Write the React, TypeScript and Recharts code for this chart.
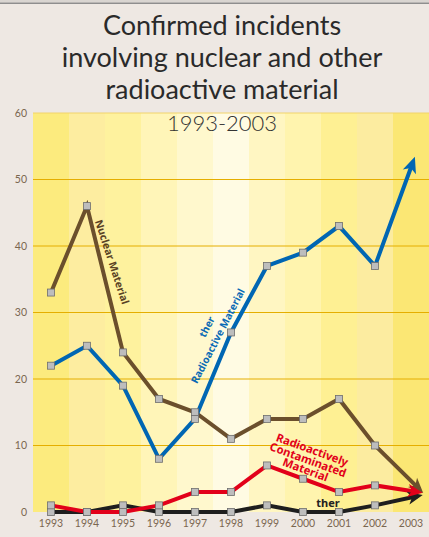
import React from 'react';
import { LineChart, Line, XAxis, YAxis, ReferenceArea, ReferenceLine } from 'recharts';

const years = [1993, 1994, 1995, 1996, 1997, 1998, 1999, 2000, 2001, 2002];
const tickYears = [1993, 1994, 1995, 1996, 1997, 1998, 1999, 2000, 2001, 2002, 2003];
const yTicks = [0, 10, 20, 30, 40, 50, 60];
const gridValues = [10, 20, 30, 40, 50];

const nuclearMaterial = [33, 46, 24, 17, 15, 11, 14, 14, 17, 10];
const otherRadioactive = [22, 25, 19, 8, 14, 27, 37, 39, 43, 37];
const contaminated = [1, 0, 0, 1, 3, 3, 7, 5, 3, 4];
const otherUnspecified = [0, 0, 1, 0, 0, 0, 1, 0, 0, 1];

// where each arrow ends (year position, value)
const nuclearEnd = [2003.24, 3.4];
const otherRadioactiveEnd = [2003.06, 52.7];
const contaminatedEnd = [2003.19, 3.0];
const otherUnspecifiedEnd = [2003.19, 2.4];

const bandColors = [
  '#FCEB7E', '#FDEDA0', '#FEF29E', '#FFF5B8', '#FFF8CD', '#FFFBE3',
  '#FFF6C2', '#FFF4AE', '#FEF093', '#FCECA0', '#FBE774',
];

const build = (vals: number[], end: number[]) => [
  ...years.map((y, i) => ({ year: y, value: vals[i] })),
  { year: end[0], value: end[1] },
];

const nuclearData = build(nuclearMaterial, nuclearEnd);
const otherRadioData = build(otherRadioactive, otherRadioactiveEnd);
const contaminatedData = build(contaminated, contaminatedEnd);
const otherData = build(otherUnspecified, otherUnspecifiedEnd);

function makeDot(color: string, lastIndex: number, L: number, hw: number) {
  let prev: { x: number; y: number } | null = null;
  return (props: any) => {
    const { cx, cy, index } = props;
    if (index === lastIndex && prev) {
      let dx = cx - prev.x;
      let dy = cy - prev.y;
      const len = Math.sqrt(dx * dx + dy * dy) || 1;
      dx /= len;
      dy /= len;
      const tx = cx + dx * 5;
      const ty = cy + dy * 5;
      const bx = tx - dx * L;
      const by = ty - dy * L;
      const nx = -dy;
      const ny = dx;
      const notchX = tx - dx * (L - 4);
      const notchY = ty - dy * (L - 4);
      const pts = [
        [tx, ty],
        [bx + nx * hw, by + ny * hw],
        [notchX, notchY],
        [bx - nx * hw, by - ny * hw],
      ]
        .map((p) => p.join(','))
        .join(' ');
      return <polygon key={`arrow-${index}`} points={pts} fill={color} />;
    }
    prev = { x: cx, y: cy };
    return (
      <rect
        key={`dot-${index}`}
        x={cx - 3.5}
        y={cy - 3.5}
        width={7}
        height={7}
        fill="#BDBDBD"
        stroke="#6E6E6E"
        strokeWidth={0.8}
      />
    );
  };
}

export default function App() {
  const last = years.length;
  const brown = '#6B4F2C';
  const blue = '#0066B3';
  const red = '#E2001A';
  const black = '#1E1E1E';
  const tickFont = { fontFamily: 'Lato, sans-serif', fontSize: 10.5, fill: '#7A6650' };
  const annot = { fontFamily: '"Noto Sans", sans-serif', fontWeight: 700 } as const;

  return (
    <div
      style={{
        position: 'absolute',
        left: 0,
        top: 0,
        width: 429,
        height: 537,
        background: '#EEE8E3',
        overflow: 'hidden',
      }}
    >
      <LineChart
        width={429}
        height={537}
        margin={{ top: 113, right: 0, left: 0, bottom: 0 }}
      >
        {tickYears.map((y, i) => (
          <ReferenceArea
            key={`band-${y}`}
            x1={y - 0.5}
            x2={y + 0.5}
            y1={0}
            y2={60}
            fill={bandColors[i]}
            fillOpacity={1}
            stroke="none"
            ifOverflow="extendDomain"
          />
        ))}
        <ReferenceLine y={60} stroke="#F2D46A" strokeWidth={1} />
        {gridValues.map((v) => (
          <ReferenceLine key={`g-${v}`} y={v} stroke="#E5AE00" strokeWidth={1} />
        ))}
        <XAxis
          dataKey="year"
          type="number"
          domain={[1992.5, 2003.5]}
          ticks={tickYears}
          interval={0}
          axisLine={false}
          tickLine={false}
          tickSize={0}
          tickMargin={8}
          height={25}
          tick={tickFont}
          allowDataOverflow
        />
        <YAxis
          type="number"
          domain={[0, 60]}
          ticks={yTicks}
          interval={0}
          axisLine={false}
          tickLine={false}
          tickSize={0}
          tickMargin={6}
          width={33}
          tick={tickFont}
        />
        <Line
          data={nuclearData}
          dataKey="value"
          type="linear"
          stroke={brown}
          strokeWidth={4}
          dot={makeDot(brown, last, 15, 6.5)}
          isAnimationActive={false}
        />
        <Line
          data={otherRadioData}
          dataKey="value"
          type="linear"
          stroke={blue}
          strokeWidth={4}
          dot={makeDot(blue, last, 16, 7)}
          isAnimationActive={false}
        />
        <Line
          data={otherData}
          dataKey="value"
          type="linear"
          stroke={black}
          strokeWidth={4}
          dot={makeDot(black, last, 15, 6.5)}
          isAnimationActive={false}
        />
        <Line
          data={contaminatedData}
          dataKey="value"
          type="linear"
          stroke={red}
          strokeWidth={4}
          dot={makeDot(red, last, 15, 6.5)}
          isAnimationActive={false}
        />
      </LineChart>
      <svg
        width={429}
        height={537}
        style={{ position: 'absolute', left: 0, top: 0, pointerEvents: 'none' }}
      >
        <rect x={0} y={0} width={429} height={2.5} fill="#D9D5D1" />
        <rect x={0} y={2.5} width={429} height={1.5} fill="#8E8E8E" />
        <g fontFamily="Lato, sans-serif" fontSize={27} fill="#2A2A2A" textAnchor="middle">
          <text x={222} y={35}>Confirmed incidents</text>
          <text x={222} y={67}>involving nuclear and other</text>
          <text x={222} y={99}>radioactive material</text>
        </g>
        <text
          x={222}
          y={131}
          textAnchor="middle"
          fontFamily="Lato, sans-serif"
          fontWeight={300}
          fontSize={22}
          fill="#333"
        >
          1993-2003
        </text>
        <text
          {...annot}
          fontSize={10.5}
          fill="#5A4224"
          textAnchor="middle"
          dy="0.35em"
          transform="translate(112,262) rotate(72)"
        >
          Nuclear Material
        </text>
        <g {...annot} fontSize={10.2} fill="#0A6AB5" textAnchor="middle" transform="translate(218,336) rotate(-62.7)">
          <text x={3} y={-10.5}>ther</text>
          <text x={0} y={3.5}>Radioactive Material</text>
        </g>
        <g {...annot} fontSize={11.3} fill={red} textAnchor="middle" transform="translate(308,460) rotate(20)">
          <text x={0.5} y={-7}>Radioactively</text>
          <text x={0} y={3.8}>Contaminated</text>
          <text x={1} y={14}>Material</text>
        </g>
        <text {...annot} fontSize={11} fill="#222" textAnchor="middle" x={328} y={507}>
          ther
        </text>
      </svg>
    </div>
  );
}
